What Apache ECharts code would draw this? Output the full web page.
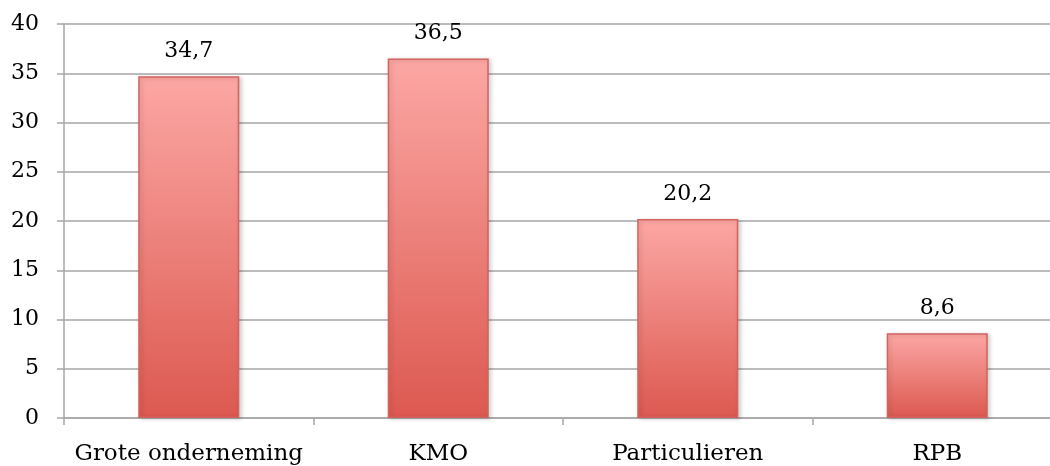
<!DOCTYPE html>
<html>
<head>
<meta charset="utf-8">
<script src="https://cdn.jsdelivr.net/npm/echarts@6/dist/echarts.min.js"></script>
<style>
  html, body { margin: 0; padding: 0; background: #fff; overflow: hidden; }
  /* the plot runs a little past the right edge of the page */
  #chart { width: 1062px; height: 466px; }
</style>
</head>
<body>
<div id="chart"></div>
<script>
// Share per segment (%)
const categories = ['Grote onderneming', 'KMO', 'Particulieren', 'RPB'];
const values = [34.7, 36.5, 20.2, 8.6];
const yTicks = { min: 0, max: 40, interval: 5 };

const FONT = '"DejaVu Serif", "Liberation Serif", serif';

const chart = echarts.init(document.getElementById('chart'), null, { renderer: 'canvas' });

chart.setOption({
  animation: false,
  backgroundColor: '#ffffff',
  grid: { left: 64, right: 0, top: 24, bottom: 48, containLabel: false },
  xAxis: {
    type: 'category',
    data: categories,
    boundaryGap: true,
    axisLine: { show: true, lineStyle: { color: '#a6a6a6', width: 1.5 } },
    axisTick: { show: true, length: 7, lineStyle: { color: '#a6a6a6', width: 1.5 } },
    axisLabel: { color: '#000', fontFamily: FONT, fontSize: 23, margin: 25, interval: 0 },
    splitLine: { show: false }
  },
  yAxis: {
    type: 'value',
    min: yTicks.min,
    max: yTicks.max,
    interval: yTicks.interval,
    axisLine: { show: true, lineStyle: { color: '#a6a6a6', width: 1.5 } },
    axisTick: { show: true, length: 7, lineStyle: { color: '#a6a6a6', width: 1.5 } },
    axisLabel: { color: '#000', fontFamily: FONT, fontSize: 22, margin: 25 },
    splitLine: { show: true, lineStyle: { color: '#a6a6a6', width: 1.5 } }
  },
  series: [{
    type: 'bar',
    data: values,
    barWidth: '40.5%',
    itemStyle: {
      color: new echarts.graphic.LinearGradient(0, 0, 0, 1, [
        { offset: 0, color: '#fca7a4' },
        { offset: 1, color: '#dc5950' }
      ]),
      borderColor: '#d4635e',
      borderWidth: 1.5,
      shadowColor: 'rgba(0,0,0,0.18)',
      shadowBlur: 4,
      shadowOffsetX: 2,
      shadowOffsetY: 1
    },
    label: {
      show: true,
      position: 'top',
      distance: 14,
      color: '#000',
      fontFamily: FONT,
      fontSize: 22,
      formatter: p => String(p.value).replace('.', ',')
    }
  }]
});
</script>
</body>
</html>
